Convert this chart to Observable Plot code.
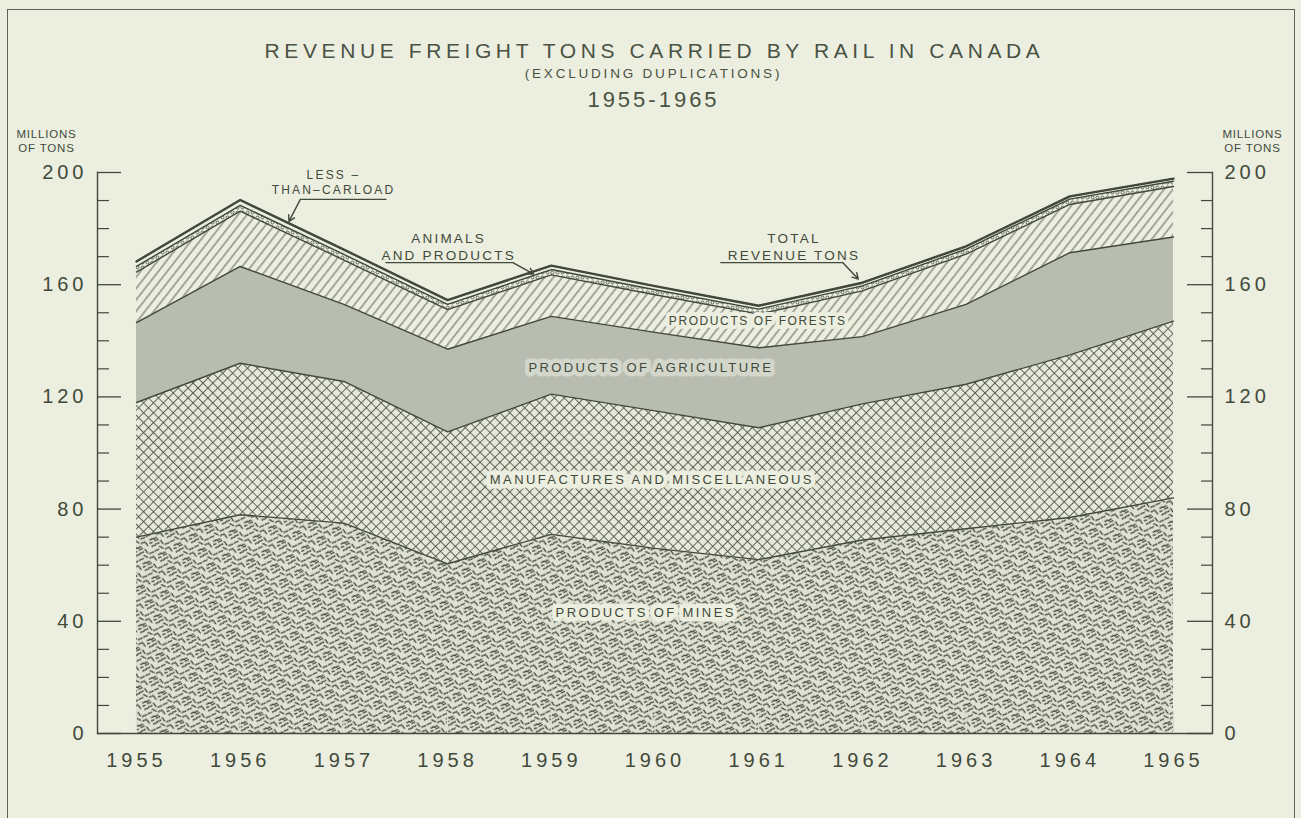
<!DOCTYPE html>
<html><head><meta charset="utf-8">
<script src="https://cdn.jsdelivr.net/npm/d3@7"></script>
<script src="https://cdn.jsdelivr.net/npm/@observablehq/plot@0.6"></script>
<style>
html,body{margin:0;padding:0;background:#eceee0;}
#wrap{position:relative;width:1301px;height:818px;overflow:hidden;background:#eceee0;font-family:"Liberation Sans",Arial,sans-serif;color:#4a5243;}
#frame{position:absolute;left:7px;top:9px;width:1286px;height:830px;border:1.5px solid #5d6457;pointer-events:none;}
#header{position:relative;height:120px;}
.t{position:absolute;left:0;width:1301px;text-align:center;white-space:nowrap;line-height:1;}
#t1{top:40px;font-size:21px;letter-spacing:4.6px;padding-left:4px;}
#t2{top:67px;font-size:13.5px;letter-spacing:2.8px;padding-left:3px;}
#t3{top:89px;font-size:22px;letter-spacing:3px;padding-left:3px;}
#chart svg{display:block;}
g[aria-label="x-axis tick label"] text, g[aria-label="y-axis tick label"] text{letter-spacing:4px;}
g[aria-description="area labels"] text{letter-spacing:2.4px;}
g[aria-description="forest label"] text{letter-spacing:1.6px;}
g[aria-description="callouts"] text{letter-spacing:2.2px;}
g[aria-description="units"] text{letter-spacing:0.8px;}
</style></head>
<body>
<div id="wrap">
<div id="frame"></div>
<div id="header">
<div class="t" id="t1">REVENUE FREIGHT TONS CARRIED BY RAIL IN CANADA</div>
<div class="t" id="t2">(EXCLUDING DUPLICATIONS)</div>
<div class="t" id="t3">1955-1965</div>
</div>
<div id="chart"></div>
</div>
<script>
// ---- data (millions of tons) ----
const years = [1955, 1956, 1957, 1958, 1959, 1960, 1961, 1962, 1963, 1964, 1965];
const seriesNames = ["Products of Mines", "Manufactures and Miscellaneous", "Products of Agriculture", "Products of Forests", "Animals and Products", "Less-than-Carload"];
const mines         = [70, 78, 75, 60.5, 71, 66, 62, 69, 73, 77, 84];
const manufactures  = [48, 54, 50.5, 47, 50, 49, 47, 48.5, 51.5, 58, 63];
const agriculture   = [28.5, 34.5, 27.5, 29.5, 27.7, 28, 28.5, 24, 28.5, 36.4, 30];
const forests       = [18.0, 19.7, 15.8, 14.1, 14.8, 13.4, 12.0, 16.3, 17.9, 17.2, 18.0];
const animals       = [2.0, 2.1, 2.0, 1.9, 1.9, 1.8, 1.8, 1.8, 1.8, 1.9, 1.9];
const lessCarload   = [1.8, 1.9, 1.7, 1.5, 1.4, 1.3, 1.2, 1.1, 1.0, 1.0, 0.9];
const totalTons     = [168.3, 190.2, 172.5, 154.5, 166.8, 159.5, 152.5, 160.7, 173.7, 191.5, 197.8];
const yMajorTicks = [0, 40, 80, 120, 160, 200];
const yMinorTicks = [10, 20, 30, 50, 60, 70, 90, 100, 110, 130, 140, 150, 170, 180, 190];

// annotation texts (anchored in data units)
const areaLabels = [
  {text: "PRODUCTS OF MINES", year: 1959.91, value: 43.1},
  {text: "MANUFACTURES AND MISCELLANEOUS", year: 1959.97, value: 90.6},
  {text: "PRODUCTS OF AGRICULTURE", year: 1959.96, value: 130.5}
];
const forestLabel = [{text: "PRODUCTS OF FORESTS", year: 1960.99, value: 146.9}];
const callouts = [
  {text: "LESS –\nTHAN–CARLOAD", year: 1956.90, value: 196.6, small: true},
  {text: "ANIMALS\nAND PRODUCTS", year: 1958.01, value: 173.8, small: false},
  {text: "TOTAL\nREVENUE TONS", year: 1961.34, value: 173.8, small: false}
];
const underlines = [
  {x1: 1956.58, x2: 1957.41, y: 190.4},
  {x1: 1957.40, x2: 1958.63, y: 167.9},
  {x1: 1960.63, x2: 1961.81, y: 167.9}
];
const pointers = [
  {x1: 1956.58, y1: 190.4, x2: 1956.47, y2: 182.6},
  {x1: 1958.63, y1: 167.9, x2: 1958.83, y2: 163.8},
  {x1: 1961.81, y1: 167.9, x2: 1961.96, y2: 162.0}
];

// ---- build table ----
const seriesValues = [mines, manufactures, agriculture, forests, animals, lessCarload];
const rows = [];
seriesNames.forEach((s, i) => years.forEach((yr, j) => rows.push({year: yr, series: s, value: seriesValues[i][j]})));
const totalRows = years.map((yr, j) => ({year: yr, total: totalTons[j]}));

const paper = "#eceee0";
const ink = "#414a3a";
const fillOf = {
  "Products of Mines": "url(#pMines)",
  "Manufactures and Miscellaneous": "url(#pManuf)",
  "Products of Agriculture": "#b9bdb1",
  "Products of Forests": "url(#pForest)",
  "Animals and Products": "url(#pAnimals)",
  "Less-than-Carload": paper
};
const haloOf = {
  "PRODUCTS OF MINES": paper,
  "MANUFACTURES AND MISCELLANEOUS": paper,
  "PRODUCTS OF AGRICULTURE": "#d3d6ca"
};

const W = 1301, H = 698, mT = 52, mB = 85, mL = 97, mR = 89;
const FW = W - mL - mR, FH = H - mT - mB;

const chart = Plot.plot({
  width: W, height: H,
  marginTop: mT, marginBottom: mB, marginLeft: mL, marginRight: mR,
  style: {background: "transparent", color: ink, fontFamily: '"Liberation Sans", Arial, sans-serif', overflow: "visible"},
  x: {domain: [1955, 1965], insetLeft: 39, insetRight: 39},
  y: {domain: [0, 200]},
  color: {type: "identity"},
  marks: [
    Plot.areaY(rows, {x: "year", y: "value", z: "series", order: seriesNames, fill: d => fillOf[d.series], curve: "linear"}),
    Plot.lineY(rows, Plot.stackY2({x: "year", y: "value", z: "series", order: seriesNames, stroke: ink, strokeWidth: 1.4})),
    Plot.lineY(totalRows, {x: "year", y: "total", stroke: ink, strokeWidth: 2.4}),
    // frame lines
    Plot.frame({anchor: "left", stroke: ink, strokeWidth: 1.4}),
    Plot.frame({anchor: "right", stroke: ink, strokeWidth: 1.4}),
    Plot.ruleY([0], {stroke: ink, strokeWidth: 1.6}),
    // tick marks
    Plot.tickY(yMajorTicks, {y: d => d, insetRight: FW - 24, stroke: ink, strokeWidth: 1.3}),
    Plot.tickY(yMinorTicks, {y: d => d, insetRight: FW - 12, stroke: ink, strokeWidth: 1.2}),
    Plot.tickY(yMajorTicks, {y: d => d, insetLeft: FW - 25, stroke: ink, strokeWidth: 1.3}),
    Plot.tickY(yMinorTicks, {y: d => d, insetLeft: FW - 11, stroke: ink, strokeWidth: 1.2}),
    Plot.tickX(years, {x: d => d, insetTop: FH - 22, stroke: "#d9dccf", strokeWidth: 1.2}),
    // axes
    Plot.axisX({ticks: years, tickFormat: d => String(d), tickSize: 0, tickPadding: 19, fontSize: 20, label: null}),
    Plot.axisY({anchor: "left", ticks: yMajorTicks, tickSize: 0, tickPadding: 10, fontSize: 20, label: null}),
    Plot.axisY({anchor: "right", ticks: yMajorTicks, tickSize: 0, tickPadding: 12, fontSize: 20, label: null}),
    // units
    Plot.text(["MILLIONS\nOF TONS"], {frameAnchor: "top-left", dx: -51, dy: -21, lineAnchor: "bottom", lineHeight: 1.2, fontSize: 11.5, textAnchor: "middle", ariaDescription: "units"}),
    Plot.text(["MILLIONS\nOF TONS"], {frameAnchor: "top-right", dx: 40, dy: -21, lineAnchor: "bottom", lineHeight: 1.2, fontSize: 11.5, textAnchor: "middle", ariaDescription: "units"}),
    // labels
    Plot.text(areaLabels, {x: "year", y: "value", text: "text", fontSize: 13, fill: ink, stroke: d => haloOf[d.text], strokeWidth: 9, strokeLinejoin: "round", ariaDescription: "area labels"}),
    Plot.text(forestLabel, {x: "year", y: "value", text: "text", fontSize: 12, fill: ink, stroke: paper, strokeWidth: 8, strokeLinejoin: "round", ariaDescription: "forest label"}),
    Plot.text(callouts, {x: "year", y: "value", text: "text", fontSize: d => d.small ? 12 : 13.5, lineHeight: 1.25, fill: ink, ariaDescription: "callouts"}),
    Plot.link(underlines, {x1: "x1", x2: "x2", y1: "y", y2: "y", stroke: ink, strokeWidth: 1.2}),
    Plot.arrow(pointers, {x1: "x1", y1: "y1", x2: "x2", y2: "y2", stroke: ink, strokeWidth: 1.4, headLength: 7, bend: 0})
  ]
});

const defs = `
<defs>
  <pattern id="pForest" width="7" height="7" patternUnits="userSpaceOnUse" patternTransform="rotate(38)">
    <rect width="7" height="7" fill="${paper}"/>
    <line x1="1" y1="0" x2="1" y2="7" stroke="#3e4737" stroke-width="0.85"/>
  </pattern>
  <pattern id="pManuf" width="7" height="7" patternUnits="userSpaceOnUse" patternTransform="rotate(45)">
    <rect width="7" height="7" fill="#e6e8da"/>
    <line x1="0.5" y1="0" x2="0.5" y2="7" stroke="#4a5343" stroke-width="0.85"/>
    <line x1="0" y1="0.5" x2="7" y2="0.5" stroke="#4a5343" stroke-width="0.85"/>
  </pattern>
  <pattern id="pAnimals" width="5" height="5" patternUnits="userSpaceOnUse">
    <rect width="5" height="5" fill="${paper}"/>
    <circle cx="2.5" cy="2.5" r="1.5" fill="none" stroke="#3e4737" stroke-width="0.8"/>
  </pattern>
  <pattern id="pMines" width="18" height="17" patternUnits="userSpaceOnUse" patternTransform="rotate(-31)">
    <rect width="18" height="17" fill="#dfe1d3"/>
    <g fill="none" stroke="#363d31" stroke-width="1.25" stroke-linecap="round">
      <path d="M0.5,2 c1.5,-1.5 2.5,1.5 4,0 s2.5,1.5 4,0"/>
      <path d="M11,1 c1.5,1.5 -0.8,2.5 0.8,4"/>
      <path d="M13,7 c1.5,-1.5 2.5,1.5 4,0"/>
      <path d="M1,7.5 c1.5,-1.2 2.5,1.2 4,0"/>
      <path d="M7,5.5 c1.5,1 1,2.5 2.5,3.5"/>
      <path d="M2,12 c1,1.5 2.5,-0.8 3.5,0.8 s2.5,-0.8 3.5,0.8"/>
      <path d="M11,11 c1.5,-1.2 2.5,1.2 4,0"/>
      <path d="M15,12.5 c1,1.2 -0.6,2.2 0.6,3.4"/>
      <path d="M6,15.5 c1.2,-1 2.2,1 3.4,0"/>
      <path d="M0.5,15 c0.8,0.8 1.6,-0.4 2.4,0.6"/>
    </g>
  </pattern>
</defs>`;
chart.insertAdjacentHTML("afterbegin", defs);
document.getElementById("chart").appendChild(chart);
</script>
</body></html>
